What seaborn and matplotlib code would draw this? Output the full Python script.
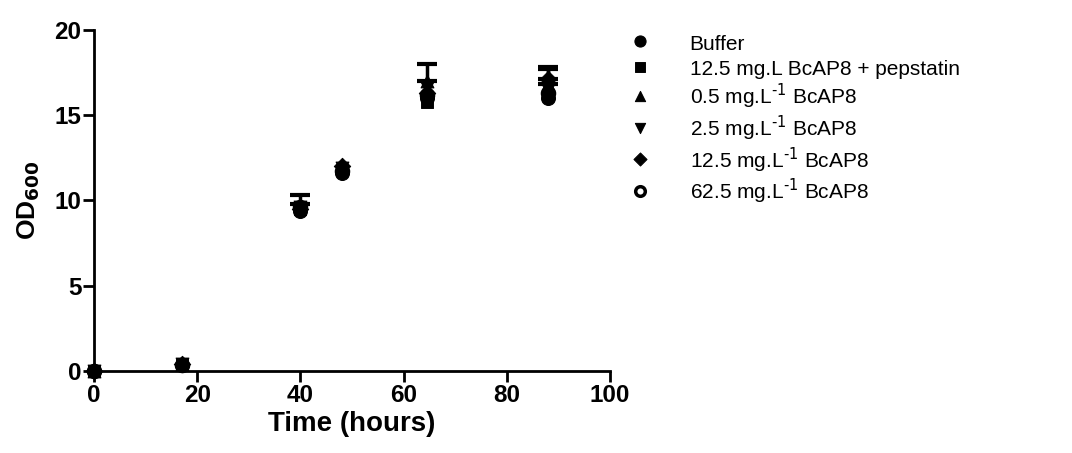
import pandas as pd
import numpy as np
import seaborn as sns
import matplotlib.pyplot as plt

# values
time = [0, 17, 40, 48, 64.5, 88]
series = ['Buffer',
          '12.5 mg.L BcAP8 + pepstatin',
          '0.5 mg.L$^{\\text{-1}}$ BcAP8',
          '2.5 mg.L$^{\\text{-1}}$ BcAP8',
          '12.5 mg.L$^{\\text{-1}}$ BcAP8',
          '62.5 mg.L$^{\\text{-1}}$ BcAP8']
buffer = [0, 0.35, 9.4, 11.6, 16.0, 16.0]
pepstatin = [0, 0.4, 9.5, 11.8, 15.8, 16.2]
bcap_05 = [0, 0.4, 9.8, 12.1, 17.0, 16.8]
bcap_25 = [0, 0.4, 9.6, 11.9, 16.6, 16.5]
bcap_125 = [0, 0.4, 9.5, 12.0, 16.3, 17.1]
bcap_625 = [0, 0.35, 9.6, 11.7, 16.2, 16.3]
sd_05 = [0, 0, 0.5, 0, 1.0, 0.9]
sd_125 = [0, 0, 0, 0, 0, 0.7]

vals = [buffer, pepstatin, bcap_05, bcap_25, bcap_125, bcap_625]
data = pd.DataFrame({'time': time * 6,
                     'od': np.concatenate(vals),
                     'group': np.repeat(series, len(time))})

plt.rcParams['font.family'] = ['Liberation Sans', 'DejaVu Sans']
fig = plt.figure(figsize=(10.72, 4.53), dpi=100)
ax = fig.add_axes([0.0877, 0.181, 0.4813, 0.753])

# error bars: only the upper half shows above the markers
for y, e in [(bcap_05, sd_05), (bcap_125, sd_125)]:
    keep = np.array(e) > 0
    xs = np.array(time)[keep]
    ys = np.array(y)[keep]
    es = np.array(e)[keep]
    ax.errorbar(xs, ys, yerr=[np.zeros(len(es)), es], fmt='none',
                ecolor='black', elinewidth=2.5, capsize=7, capthick=3,
                clip_on=False, zorder=2)

markers = {series[0]: 'o', series[1]: 's', series[2]: '^',
           series[3]: 'v', series[4]: 'D', series[5]: 'o'}
sizes = {series[0]: 100, series[1]: 70, series[2]: 85,
         series[3]: 85, series[4]: 70, series[5]: 75}

# open circles go underneath so the clusters read black
sub = data[data.group == series[-1]]
sns.scatterplot(x='time', y='od', data=sub, marker='o', s=sizes[series[-1]],
                facecolor='white', edgecolor='black', linewidth=2.5, ax=ax,
                label=series[-1], clip_on=False, zorder=3)
for g in series[1:-1] + series[:1]:
    sub = data[data.group == g]
    sns.scatterplot(x='time', y='od', data=sub, marker=markers[g], s=sizes[g],
                    color='black', edgecolor='black', ax=ax, label=g,
                    clip_on=False, zorder=4)

ax.set_xlim(0, 100)
ax.set_ylim(0, 20)
ax.set_xticks([0, 20, 40, 60, 80, 100])
ax.set_yticks([0, 5, 10, 15, 20])
ax.spines['top'].set_visible(False)
ax.spines['right'].set_visible(False)
for s in ['left', 'bottom']:
    ax.spines[s].set_linewidth(2)
ax.tick_params(width=2, length=8, labelsize=17.5, direction='out', pad=1)
for t in ax.get_xticklabels() + ax.get_yticklabels():
    t.set_fontweight('bold')
ax.set_xlabel('Time (hours)', fontsize=20, fontweight='bold', labelpad=3)
ax.set_ylabel('OD$_{\\mathbf{600}}$', fontsize=19, fontweight='bold',
              labelpad=9)

handles, labels = ax.get_legend_handles_labels()
order = [labels.index(s) for s in series]
ax.legend([handles[i] for i in order], [labels[i] for i in order],
          loc='upper left', bbox_to_anchor=(1.001, 1.05), frameon=False,
          fontsize=15, handletextpad=1.9, labelspacing=0.12,
          handlelength=1.0, handleheight=1.3, markerscale=0.8)

plt.savefig('out.png', dpi=100)
